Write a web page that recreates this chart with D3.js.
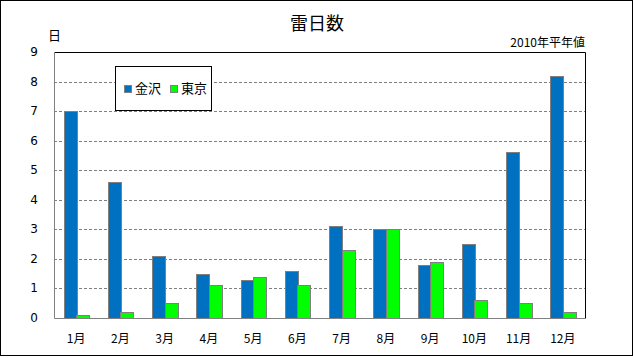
<!DOCTYPE html>
<html><head><meta charset="utf-8">
<script src="https://cdn.jsdelivr.net/npm/d3@7"></script>
<style>body{margin:0;background:#fff}svg{display:block}</style>
</head><body>
<script>
const months = ["1月","2月","3月","4月","5月","6月","7月","8月","9月","10月","11月","12月"];
const seriesNames = ["金沢","東京"];
const kanazawa = [7.0,4.6,2.1,1.5,1.3,1.6,3.1,3.0,1.8,2.5,5.6,8.2];
const tokyo = [0.1,0.2,0.5,1.1,1.4,1.1,2.3,3.0,1.9,0.6,0.5,0.2];
const yTicks = [0,1,2,3,4,5,6,7,8,9];
const colors = ["#0070C0","#00FF00"];

const W=634,H=358;
const svg=d3.select("body").append("svg").attr("width",W).attr("height",H);
const font="'DejaVu Sans', sans-serif";
const jfont="'Noto Sans CJK JP', sans-serif";
svg.append("rect").attr("x",0.5).attr("y",0.5).attr("width",632).attr("height",355)
  .attr("fill","#fff").attr("stroke","#000");

const L=54,R=585,T=52,B=318;
const x=d3.scaleBand().domain(months).range([L,R]);
const y=d3.scaleLinear().domain([0,9]).range([B,T]);
const groupW=25;
const xs=d3.scaleBand().domain(seriesNames).range([0,groupW]);

// gridlines
svg.append("g").selectAll("line").data(yTicks.filter(d=>d>0&&d<9)).join("line")
  .attr("x1",L).attr("x2",R).attr("y1",d=>Math.round(y(d))+0.5).attr("y2",d=>Math.round(y(d))+0.5)
  .attr("stroke","#808080").attr("stroke-dasharray","3,2");
// top & right border black
svg.append("path").attr("d",`M${L},${T+0.5}H${R+0.5}V${B}`).attr("fill","none").attr("stroke","#000");

const data=months.map((m,i)=>({m,vals:[kanazawa[i],tokyo[i]]}));
const g=svg.append("g");
data.forEach(d=>{
  d.vals.forEach((v,j)=>{
    const bx=x(d.m)+x.bandwidth()/2-groupW/2+xs(seriesNames[j]);
    g.append("rect").attr("x",Math.round(bx)+0.5).attr("y",Math.round(y(v))+0.5)
     .attr("width",Math.round(xs.bandwidth())).attr("height",Math.round(B-y(v)))
     .attr("fill",colors[j]).attr("stroke","#808080").attr("stroke-width",1);
  });
});

// axes lines (gray)
svg.append("path").attr("d",`M${L+0.5},${T}V${B+0.5}H${R+1}`).attr("fill","none").attr("stroke","#808080");

// y tick labels
svg.append("g").selectAll("text").data(yTicks).join("text")
  .attr("x",38).attr("y",d=>y(d)+4).attr("text-anchor","end")
  .attr("font-family",font).attr("font-size",12).attr("fill","#000").text(d=>d);
// x labels
svg.append("g").selectAll("text").data(months).join("text")
  .attr("x",d=>x(d)+x.bandwidth()/2).attr("y",343).attr("text-anchor","middle")
  .attr("font-family",jfont).attr("font-size",12).attr("fill","#000").text(d=>d);

// title
svg.append("text").attr("x",317).attr("y",30).attr("text-anchor","middle")
  .attr("font-family",jfont).attr("font-size",18).text("雷日数");
svg.append("text").attr("x",48).attr("y",40)
  .attr("font-family",jfont).attr("font-size",13).text("日");
svg.append("text").attr("x",585).attr("y",47).attr("text-anchor","end")
  .attr("font-family",jfont).attr("font-size",12).text("2010年平年値");

// legend
const lg=svg.append("g");
lg.append("rect").attr("x",115.5).attr("y",66.5).attr("width",96).attr("height",44)
  .attr("fill","#fff").attr("stroke","#000");
const lx=[124,170];
seriesNames.forEach((s,i)=>{
  lg.append("rect").attr("x",lx[i]+0.5).attr("y",85.5).attr("width",7).attr("height",7)
    .attr("fill",colors[i]).attr("stroke","#808080");
  lg.append("text").attr("x",lx[i]+11).attr("y",93).attr("font-family",jfont)
    .attr("font-size",13).text(s);
});
</script>
</body></html>
